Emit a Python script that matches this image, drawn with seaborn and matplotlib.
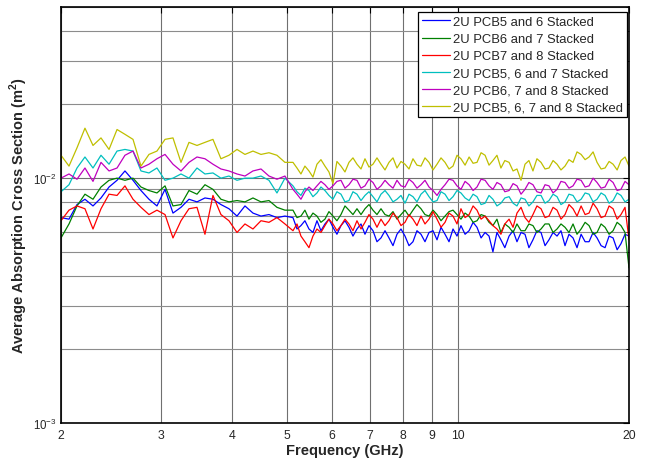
import numpy as np
import pandas as pd
import matplotlib
matplotlib.use("Agg")
import matplotlib.pyplot as plt
import matplotlib.ticker as mticker
import seaborn as sns

# main frequency samples (GHz)
freq_ghz = [2.000, 2.066, 2.134, 2.204, 2.277, 2.352, 2.430, 2.510, 2.592, 2.678,
            2.766, 2.857, 2.951, 3.049, 3.149, 3.253, 3.360, 3.471, 3.585, 3.703,
            3.825, 3.951, 4.082, 4.216, 4.355, 4.499, 4.647, 4.800, 4.958, 5.122,
            5.290, 5.465, 5.645, 5.831, 6.023, 6.222, 6.427, 6.639, 6.858, 7.084,
            7.318, 7.559, 7.808, 8.066, 8.331, 8.606, 8.891, 9.184, 9.487, 9.799,
            10.12, 10.46, 10.80, 11.16, 11.52, 11.90, 12.30, 12.70, 13.12, 13.55,
            14.00, 14.46, 14.94, 15.43, 15.94, 16.47, 17.01, 17.57, 18.15, 18.75,
            19.36, 20.00]

# extra samples in the dense-noise region above 5 GHz
freq_hi = [5.206, 5.376, 5.554, 5.737, 5.926, 6.121, 6.324, 6.532, 6.748, 6.970,
           7.200, 7.438, 7.683, 7.936, 8.198, 8.467, 8.747, 9.036, 9.334, 9.642,
           9.959, 10.29, 10.63, 10.98, 11.34, 11.71, 12.09, 12.50, 12.91, 13.33,
           13.77, 14.23, 14.70, 15.18, 15.68, 16.20, 16.74, 17.29, 17.86, 18.45,
           19.06, 19.68]

pcb56 = [0.0069, 0.0068, 0.0078, 0.0082, 0.0077, 0.0083, 0.0092, 0.0098, 0.0107, 0.0098,
         0.0089, 0.0082, 0.0077, 0.0090, 0.0072, 0.0076, 0.0082, 0.0080, 0.0083, 0.0082,
         0.0078, 0.0075, 0.0070, 0.0077, 0.0072, 0.0070, 0.0071, 0.0069, 0.0070, 0.0069,
         0.0064, 0.0062, 0.0067, 0.0065, 0.0063, 0.0064, 0.0063, 0.0062, 0.0059, 0.0061,
         0.0057, 0.0057, 0.0059, 0.0058, 0.0055, 0.0059, 0.0060, 0.0056, 0.0059, 0.0062,
         0.0064, 0.0061, 0.0063, 0.0060, 0.0050, 0.0056, 0.0058, 0.0055, 0.0059, 0.0056,
         0.0060, 0.0056, 0.0058, 0.0053, 0.0057, 0.0059, 0.0055, 0.0057, 0.0052, 0.0057,
         0.0054, 0.0058]
pcb56_hi = [0.0062, 0.0067, 0.0060, 0.0061, 0.0068, 0.0059, 0.0067, 0.0058, 0.0065, 0.0064,
            0.0055, 0.0061, 0.0053, 0.0062, 0.0053, 0.0061, 0.0055, 0.0061, 0.0063, 0.0055,
            0.0058, 0.0059, 0.0066, 0.0057, 0.0058, 0.0060, 0.0052, 0.0061, 0.0060, 0.0052,
            0.0061, 0.0053, 0.0060, 0.0061, 0.0059, 0.0052, 0.0055, 0.0060, 0.0053, 0.0058,
            0.0051, 0.0059]

pcb67 = [0.0057, 0.0065, 0.0077, 0.0086, 0.0082, 0.0092, 0.0098, 0.0100, 0.0098, 0.0100,
         0.0092, 0.0089, 0.0087, 0.0093, 0.0077, 0.0078, 0.0089, 0.0086, 0.0094, 0.0090,
         0.0082, 0.0080, 0.0081, 0.0080, 0.0083, 0.0080, 0.0081, 0.0076, 0.0074, 0.0074,
         0.0070, 0.0068, 0.0070, 0.0068, 0.0070, 0.0071, 0.0074, 0.0075, 0.0075, 0.0074,
         0.0075, 0.0070, 0.0068, 0.0074, 0.0074, 0.0075, 0.0070, 0.0071, 0.0070, 0.0074,
         0.0068, 0.0070, 0.0067, 0.0070, 0.0064, 0.0060, 0.0063, 0.0065, 0.0061, 0.0064,
         0.0062, 0.0065, 0.0062, 0.0063, 0.0065, 0.0062, 0.0064, 0.0060, 0.0063, 0.0061,
         0.0064, 0.0043]
pcb67_hi = [0.0069, 0.0074, 0.0072, 0.0066, 0.0073, 0.0067, 0.0077, 0.0071, 0.0071, 0.0078,
            0.0071, 0.0071, 0.0073, 0.0071, 0.0070, 0.0078, 0.0071, 0.0074, 0.0067, 0.0073,
            0.0071, 0.0072, 0.0066, 0.0071, 0.0066, 0.0068, 0.0065, 0.0060, 0.0061, 0.0065,
            0.0060, 0.0065, 0.0060, 0.0065, 0.0060, 0.0059, 0.0066, 0.0059, 0.0065, 0.0059,
            0.0066, 0.0060]

pcb78 = [0.0067, 0.0074, 0.0077, 0.0075, 0.0062, 0.0075, 0.0086, 0.0085, 0.0093, 0.0082,
         0.0076, 0.0071, 0.0074, 0.0071, 0.0057, 0.0067, 0.0075, 0.0076, 0.0059, 0.0085,
         0.0071, 0.0067, 0.0060, 0.0065, 0.0062, 0.0067, 0.0066, 0.0069, 0.0065, 0.0061,
         0.0058, 0.0052, 0.0062, 0.0064, 0.0065, 0.0064, 0.0065, 0.0067, 0.0066, 0.0068,
         0.0068, 0.0067, 0.0069, 0.0066, 0.0068, 0.0070, 0.0068, 0.0068, 0.0066, 0.0070,
         0.0075, 0.0071, 0.0074, 0.0070, 0.0064, 0.0059, 0.0068, 0.0072, 0.0069, 0.0071,
         0.0075, 0.0070, 0.0074, 0.0071, 0.0075, 0.0077, 0.0072, 0.0075, 0.0070, 0.0075,
         0.0071, 0.0056]
pcb78_hi = [0.0065, 0.0055, 0.0058, 0.0060, 0.0068, 0.0061, 0.0068, 0.0061, 0.0062, 0.0071,
            0.0063, 0.0064, 0.0072, 0.0064, 0.0071, 0.0064, 0.0065, 0.0073, 0.0063, 0.0072,
            0.0065, 0.0069, 0.0077, 0.0068, 0.0067, 0.0062, 0.0065, 0.0063, 0.0076, 0.0066,
            0.0077, 0.0069, 0.0076, 0.0068, 0.0078, 0.0070, 0.0071, 0.0079, 0.0069, 0.0077,
            0.0068, 0.0076]

pcb567 = [0.0088, 0.0094, 0.0110, 0.0122, 0.0110, 0.0124, 0.0114, 0.0129, 0.0131, 0.0129,
          0.0107, 0.0105, 0.0110, 0.0098, 0.0100, 0.0104, 0.0100, 0.0110, 0.0104, 0.0105,
          0.0100, 0.0102, 0.0098, 0.0100, 0.0100, 0.0102, 0.0098, 0.0087, 0.0100, 0.0093,
          0.0085, 0.0089, 0.0087, 0.0089, 0.0082, 0.0086, 0.0081, 0.0086, 0.0085, 0.0084,
          0.0086, 0.0085, 0.0082, 0.0079, 0.0084, 0.0086, 0.0084, 0.0081, 0.0086, 0.0084,
          0.0087, 0.0081, 0.0084, 0.0079, 0.0082, 0.0079, 0.0084, 0.0077, 0.0082, 0.0080,
          0.0085, 0.0081, 0.0084, 0.0080, 0.0085, 0.0082, 0.0086, 0.0082, 0.0085, 0.0081,
          0.0085, 0.0082]
pcb567_hi = [0.0088, 0.0091, 0.0084, 0.0092, 0.0085, 0.0088, 0.0080, 0.0088, 0.0081, 0.0088,
             0.0080, 0.0089, 0.0080, 0.0085, 0.0086, 0.0080, 0.0089, 0.0080, 0.0088, 0.0081,
             0.0089, 0.0083, 0.0086, 0.0078, 0.0085, 0.0077, 0.0083, 0.0079, 0.0083, 0.0077,
             0.0085, 0.0079, 0.0086, 0.0078, 0.0086, 0.0080, 0.0087, 0.0080, 0.0087, 0.0079,
             0.0087, 0.0080]

pcb678 = [0.0100, 0.0104, 0.0099, 0.0110, 0.0097, 0.0116, 0.0107, 0.0110, 0.0124, 0.0129,
          0.0110, 0.0114, 0.0120, 0.0125, 0.0114, 0.0107, 0.0116, 0.0122, 0.0120, 0.0114,
          0.0109, 0.0107, 0.0104, 0.0102, 0.0107, 0.0109, 0.0102, 0.0099, 0.0102, 0.0090,
          0.0082, 0.0092, 0.0093, 0.0094, 0.0093, 0.0098, 0.0094, 0.0098, 0.0093, 0.0096,
          0.0093, 0.0094, 0.0098, 0.0092, 0.0096, 0.0094, 0.0092, 0.0085, 0.0094, 0.0098,
          0.0090, 0.0094, 0.0092, 0.0098, 0.0090, 0.0094, 0.0089, 0.0093, 0.0090, 0.0094,
          0.0087, 0.0093, 0.0090, 0.0096, 0.0093, 0.0098, 0.0093, 0.0096, 0.0092, 0.0096,
          0.0090, 0.0094]
pcb678_hi = [0.0086, 0.0088, 0.0089, 0.0097, 0.0090, 0.0097, 0.0091, 0.0099, 0.0091, 0.0099,
             0.0090, 0.0098, 0.0091, 0.0093, 0.0099, 0.0091, 0.0098, 0.0089, 0.0090, 0.0099,
             0.0093, 0.0097, 0.0089, 0.0099, 0.0093, 0.0096, 0.0088, 0.0095, 0.0086, 0.0096,
             0.0088, 0.0094, 0.0087, 0.0097, 0.0091, 0.0099, 0.0092, 0.0100, 0.0091, 0.0099,
             0.0089, 0.0097]

pcb5678 = [0.0124, 0.0112, 0.0133, 0.0160, 0.0136, 0.0146, 0.0131, 0.0158, 0.0151, 0.0144,
           0.0112, 0.0125, 0.0129, 0.0144, 0.0146, 0.0116, 0.0140, 0.0136, 0.0140, 0.0144,
           0.0120, 0.0124, 0.0131, 0.0125, 0.0129, 0.0125, 0.0127, 0.0124, 0.0116, 0.0116,
           0.0104, 0.0107, 0.0114, 0.0112, 0.0095, 0.0112, 0.0116, 0.0114, 0.0120, 0.0114,
           0.0114, 0.0116, 0.0110, 0.0114, 0.0120, 0.0112, 0.0116, 0.0114, 0.0116, 0.0112,
           0.0120, 0.0122, 0.0116, 0.0124, 0.0118, 0.0110, 0.0116, 0.0109, 0.0114, 0.0107,
           0.0116, 0.0110, 0.0114, 0.0112, 0.0116, 0.0125, 0.0122, 0.0116, 0.0110, 0.0114,
           0.0118, 0.0112]
pcb5678_hi = [0.0110, 0.0112, 0.0101, 0.0119, 0.0106, 0.0117, 0.0106, 0.0121, 0.0109, 0.0111,
              0.0121, 0.0108, 0.0121, 0.0117, 0.0109, 0.0113, 0.0121, 0.0108, 0.0121, 0.0109,
              0.0124, 0.0113, 0.0115, 0.0127, 0.0113, 0.0124, 0.0118, 0.0107, 0.0098, 0.0118,
              0.0120, 0.0109, 0.0118, 0.0108, 0.0119, 0.0128, 0.0119, 0.0128, 0.0109, 0.0117,
              0.0108, 0.0122]

labels = ["2U PCB5 and 6 Stacked", "2U PCB6 and 7 Stacked", "2U PCB7 and 8 Stacked",
          "2U PCB5, 6 and 7 Stacked", "2U PCB6, 7 and 8 Stacked", "2U PCB5, 6, 7 and 8 Stacked"]
series = [(pcb56, pcb56_hi), (pcb67, pcb67_hi), (pcb78, pcb78_hi),
          (pcb567, pcb567_hi), (pcb678, pcb678_hi), (pcb5678, pcb5678_hi)]
colors = ["#0000FF", "#008000", "#FF0000", "#00BFBF", "#BF00BF", "#BFBF00"]

x_ticks = [2, 3, 4, 5, 6, 7, 8, 9, 10, 20]

frames = []
for lab, (vals, vals_hi) in zip(labels, series):
    frames.append(pd.DataFrame({"freq": freq_ghz + freq_hi,
                                "acs": vals + vals_hi, "series": lab}))
df = pd.concat(frames, ignore_index=True)

sns.set_style("white")
plt.rcParams["font.family"] = ["Liberation Sans", "DejaVu Sans"]
plt.rcParams["mathtext.fontset"] = "custom"
plt.rcParams["mathtext.rm"] = "Liberation Sans"
plt.rcParams["mathtext.bf"] = "Liberation Sans:bold"

fig = plt.figure(figsize=(6.49, 4.64), dpi=100)
ax = fig.add_axes([61 / 649, 1 - 424 / 464, 568 / 649, 416 / 464])

sns.lineplot(data=df, x="freq", y="acs", hue="series", hue_order=labels,
             palette=colors, estimator=None, sort=True, linewidth=0.9, ax=ax)

ax.set_xscale("log")
ax.set_yscale("log")
ax.set_xlim(2, 20)
ax.set_ylim(1e-3, 5e-2)

ax.xaxis.set_major_locator(mticker.FixedLocator(x_ticks))
ax.xaxis.set_major_formatter(mticker.FixedFormatter([str(t) for t in x_ticks]))
ax.xaxis.set_minor_locator(mticker.NullLocator())
ax.yaxis.set_major_locator(mticker.LogLocator(base=10, numticks=10))
ax.yaxis.set_minor_locator(mticker.LogLocator(base=10, subs=np.arange(2, 10), numticks=20))
ax.yaxis.set_minor_formatter(mticker.NullFormatter())

ax.grid(True, which="major", axis="both", color="#707070", linewidth=0.8)
ax.grid(True, which="minor", axis="y", color="#8c8c8c", linewidth=0.8)
ax.set_axisbelow(True)

ax.tick_params(which="both", direction="in", top=True, right=True,
               color="black", pad=4)
ax.tick_params(axis="x", labelsize=8.8)
ax.tick_params(axis="y", labelsize=8.3, pad=3)
ax.tick_params(which="major", length=4, width=0.8)
ax.tick_params(which="minor", length=2.5, width=0.6)
for s in ax.spines.values():
    s.set_color("black")
    s.set_linewidth(1.2)

ax.set_xlabel("Frequency (GHz)", fontsize=10.5, fontweight="bold", labelpad=2)
ax.set_ylabel(r"Average Absorption Cross Section (m$^{\mathbf{2}}$)", fontsize=10.5,
              fontweight="bold")
ax.yaxis.set_label_coords(-0.0546, 0.5)

handles, labs = ax.get_legend_handles_labels()
leg = ax.legend(handles, labs, loc="upper right",
                bbox_to_anchor=(1 - 2 / 568, 1 - 5 / 416), borderaxespad=0,
                fontsize=9.4, frameon=True, fancybox=False, framealpha=1,
                edgecolor="black", handlelength=2.1, handletextpad=0.25,
                labelspacing=0.38, borderpad=0.3)
leg.get_frame().set_linewidth(0.9)
for ln in leg.get_lines():
    ln.set_linewidth(0.9)

fig.savefig("out.png", dpi=100)
